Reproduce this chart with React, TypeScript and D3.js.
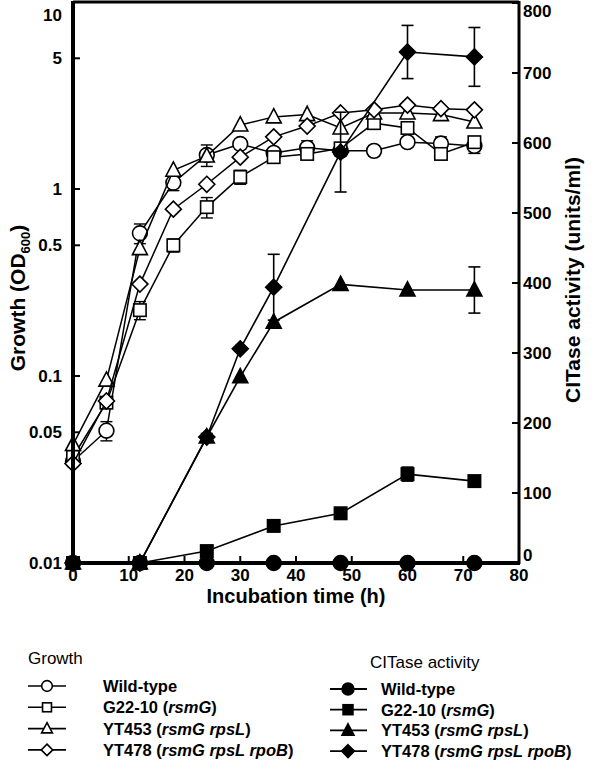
import React from "react";
import * as d3 from "d3";

// growth (OD600), open symbols, left log axis
const growthTimes = [0, 6, 12, 18, 24, 30, 36, 42, 48, 54, 60, 66, 72];
const wtGrowth = [0.035, 0.051, 0.58, 1.08, 1.52, 1.74, 1.56, 1.66, 1.6, 1.6, 1.78, 1.75, 1.7];
const wtGrowthErr = [0, 0.006, 0.07, 0.1, 0.2, 0.1, 0.05, 0.15, 0.1, 0.1, 0.05, 0.15, 0.15];
const g22Growth = [0.037, 0.072, 0.225, 0.5, 0.8, 1.16, 1.48, 1.54, 1.65, 2.25, 2.12, 1.54, 1.78];
const g22GrowthErr = [0, 0, 0.025, 0.04, 0.1, 0.1, 0, 0, 0, 0, 0, 0.1, 0.1];
const triGrowth = [0.043, 0.095, 0.48, 1.26, 1.5, 2.2, 2.43, 2.5, 2.12, 2.55, 2.55, 2.5, 2.28];
const diaGrowth = [0.034, 0.0735, 0.31, 0.78, 1.06, 1.48, 1.9, 2.17, 2.55, 2.65, 2.81, 2.69, 2.65];

// CITase activity (units/ml), filled symbols, right axis
const citTimes = [0, 12, 24, 36, 48, 60, 72];
const wtCit = [0, 0, 0, 0, 0, 0, 0];
const g22Cit = [0, 0, 17, 53, 71, 127, 117];
const g22CitErr = [0, 0, 3, 5, 8, 10, 7];
const citTimes2 = [0, 12, 24, 30, 36, 48, 60, 72];
const triCit = [0, 0, 180, 266, 344, 398, 390, 390];
const triCitErr = [0, 0, 0, 0, 0, 0, 0, 33];
const diaCit = [0, 0, 180, 306, 394, 587, 730, 723];
const diaCitErr = [0, 0, 5, 0, 47, 57, 38, 42];

const xTicks = [0, 10, 20, 30, 40, 50, 60, 70, 80];
const leftTicks = [0.01, 0.05, 0.1, 0.5, 1, 5, 10];
const rightTicks = [0, 100, 200, 300, 400, 500, 600, 700, 800];

const strains = ["Wild-type", "G22-10", "YT453", "YT478"];
const genes = ["", "rsmG", "rsmG rpsL", "rsmG rpsL rpoB"];
const shapes = ["circle", "square", "triangle", "diamond"];

const font = "'Liberation Sans', Arial, sans-serif";

function Marker({ shape, cx, cy, filled, s = 1 }) {
  const fill = filled ? "#000" : "#fff";
  const sw = 1.6;
  if (shape === "circle") return <circle cx={cx} cy={cy} r={7.4 * s} fill={fill} stroke="#000" strokeWidth={sw} />;
  if (shape === "square") {
    const h = 6.2 * s;
    return <rect x={cx - h} y={cy - h} width={2 * h} height={2 * h} fill={fill} stroke="#000" strokeWidth={sw} />;
  }
  if (shape === "triangle") {
    const h = 7.5 * s;
    return <path d={`M${cx},${cy - h * 1.1}L${cx + h},${cy + h * 0.8}L${cx - h},${cy + h * 0.8}Z`} fill={fill} stroke="#000" strokeWidth={sw} />;
  }
  const h = 8 * s;
  return <path d={`M${cx},${cy - h}L${cx + h},${cy}L${cx},${cy + h}L${cx - h},${cy}Z`} fill={fill} stroke="#000" strokeWidth={sw} />;
}

export default function App() {
  const x = d3.scaleLinear().domain([0, 80]).range([73, 519]);
  const yL = d3.scaleLog().domain([0.01, 10]).range([563, 2]);
  const yR = d3.scaleLinear().domain([0, 800]).range([563, 3]);

  const growth = [
    { v: wtGrowth, e: wtGrowthErr },
    { v: g22Growth, e: g22GrowthErr },
    { v: triGrowth, e: null },
    { v: diaGrowth, e: null },
  ];
  const cit = [
    { t: citTimes, v: wtCit, e: null },
    { t: citTimes, v: g22Cit, e: g22CitErr },
    { t: citTimes2, v: triCit, e: triCitErr },
    { t: citTimes2, v: diaCit, e: diaCitErr },
  ];

  const cap = 6;

  return (
    <svg width={600} height={770} style={{ position: "absolute", left: 0, top: 0, background: "#fff" }} fontFamily={font}>
      {/* growth series */}
      {growth.map((s, i) => {
        const pts = growthTimes.map((t, j) => [x(t), yL(s.v[j])]);
        return (
          <g key={"g" + i}>
            <path d={d3.line()(pts)} fill="none" stroke="#000" strokeWidth={1.5} />
            {s.e && s.v.map((v, j) => s.e[j] > 0 && (
              <g key={j} stroke="#000" strokeWidth={1.4}>
                <line x1={x(growthTimes[j])} x2={x(growthTimes[j])} y1={yL(v + s.e[j])} y2={yL(Math.max(v - s.e[j], 0.011))} />
                <line x1={x(growthTimes[j]) - cap} x2={x(growthTimes[j]) + cap} y1={yL(v + s.e[j])} y2={yL(v + s.e[j])} />
                <line x1={x(growthTimes[j]) - cap} x2={x(growthTimes[j]) + cap} y1={yL(v - s.e[j])} y2={yL(v - s.e[j])} />
              </g>
            ))}
            {pts.map((p, j) => <Marker key={j} shape={shapes[i]} cx={p[0]} cy={p[1]} filled={false} />)}
          </g>
        );
      })}

      {/* CITase series */}
      {cit.map((s, i) => {
        const pts = s.t.map((t, j) => [x(t), yR(s.v[j])]);
        return (
          <g key={"c" + i}>
            <path d={d3.line()(pts)} fill="none" stroke="#000" strokeWidth={1.6} />
            {s.e && s.v.map((v, j) => s.e[j] > 0 && (
              <g key={j} stroke="#000" strokeWidth={1.6}>
                <line x1={x(s.t[j])} x2={x(s.t[j])} y1={yR(v + s.e[j])} y2={yR(v - s.e[j])} />
                <line x1={x(s.t[j]) - cap} x2={x(s.t[j]) + cap} y1={yR(v + s.e[j])} y2={yR(v + s.e[j])} />
                <line x1={x(s.t[j]) - cap} x2={x(s.t[j]) + cap} y1={yR(v - s.e[j])} y2={yR(v - s.e[j])} />
              </g>
            ))}
            {pts.map((p, j) => <Marker key={j} shape={shapes[i]} cx={p[0]} cy={p[1]} filled={true} />)}
          </g>
        );
      })}

      {/* frame */}
      <line x1={73} x2={519} y1={2} y2={2} stroke="#000" strokeWidth={3} />
      <line x1={519} x2={519} y1={1} y2={564} stroke="#000" strokeWidth={3} />
      <line x1={73} x2={73} y1={1} y2={565} stroke="#000" strokeWidth={4} />
      <line x1={71} x2={520} y1={563} y2={563} stroke="#000" strokeWidth={4} />

      {/* left axis */}
      {leftTicks.map((t) => (
        <g key={"l" + t}>
          <line x1={73} x2={80} y1={yL(t)} y2={yL(t)} stroke="#000" strokeWidth={2} />
          <text x={62} y={Math.max(yL(t), 15)} textAnchor="end" dominantBaseline="central" fontSize={17} fontWeight="bold">{t}</text>
        </g>
      ))}
      {/* right axis */}
      {rightTicks.map((t) => (
        <g key={"r" + t}>
          <line x1={512} x2={519} y1={yR(t)} y2={yR(t)} stroke="#000" strokeWidth={2} />
          <text x={523} y={Math.min(Math.max(yR(t), 11), 555)} dominantBaseline="central" fontSize={17} fontWeight="bold">{t}</text>
        </g>
      ))}
      {/* bottom axis */}
      {xTicks.map((t) => (
        <g key={"x" + t}>
          {t > 0 && t < 80 && <line x1={x(t)} x2={x(t)} y1={563} y2={556} stroke="#000" strokeWidth={2} />}
          <text x={x(t)} y={581} textAnchor="middle" fontSize={17} fontWeight="bold">{t}</text>
        </g>
      ))}

      {/* axis titles */}
      <text transform="translate(25,298) rotate(-90)" textAnchor="middle" fontSize={21} fontWeight="bold">
        Growth (OD<tspan fontSize={13} dy={5}>600</tspan><tspan dy={-5}>)</tspan>
      </text>
      <text transform="translate(580,280) rotate(-90)" textAnchor="middle" fontSize={21} fontWeight="bold">
        CITase activity (units/ml)
      </text>
      <text x={296} y={603} textAnchor="middle" fontSize={20} fontWeight="bold">Incubation time (h)</text>

      {/* legends */}
      <text x={28} y={664} fontSize={17}>Growth</text>
      {strains.map((s, i) => {
        const yy = 686 + i * 21.3;
        return (
          <g key={"lg" + i}>
            <line x1={28} x2={66} y1={yy} y2={yy} stroke="#000" strokeWidth={1.6} />
            <Marker shape={shapes[i]} cx={47} cy={yy} filled={false} s={0.72} />
            <text x={103} y={yy} dominantBaseline="central" fontSize={16.5} fontWeight="bold">
              {s}{genes[i] && <> (<tspan fontStyle="italic">{genes[i]}</tspan>)</>}
            </text>
          </g>
        );
      })}
      <text x={370} y={668} fontSize={17}>CITase activity</text>
      {strains.map((s, i) => {
        const yy = 689 + i * 20.7;
        return (
          <g key={"lc" + i}>
            <line x1={330} x2={367} y1={yy} y2={yy} stroke="#000" strokeWidth={1.8} />
            <Marker shape={shapes[i]} cx={348} cy={yy} filled={true} s={0.8} />
            <text x={381} y={yy} dominantBaseline="central" fontSize={16.5} fontWeight="bold">
              {s}{genes[i] && <> (<tspan fontStyle="italic">{genes[i]}</tspan>)</>}
            </text>
          </g>
        );
      })}
    </svg>
  );
}
